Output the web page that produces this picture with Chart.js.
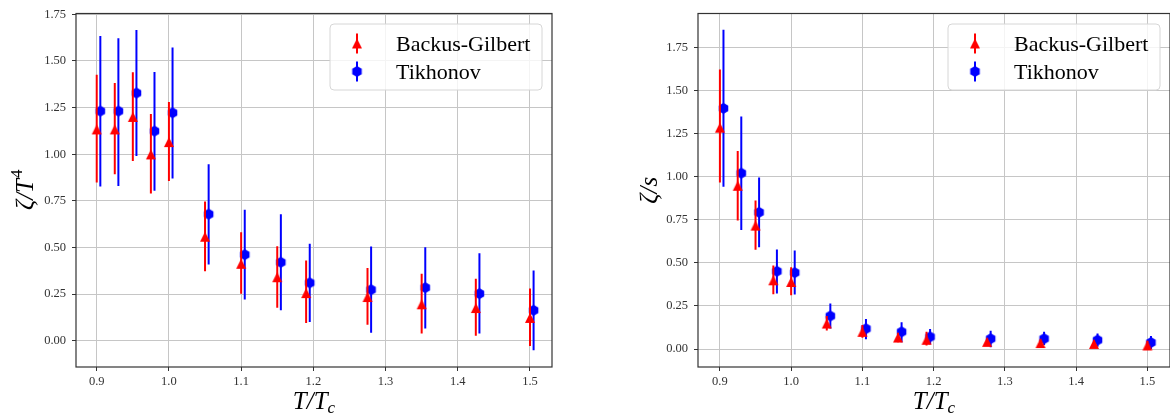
<!DOCTYPE html>
<html>
<head>
<meta charset="utf-8">
<script src="https://cdn.jsdelivr.net/npm/chart.js@4"></script>
<style>
  html, body { margin: 0; padding: 0; background: #fff; overflow: hidden; }
  .panel { position: absolute; top: 0; height: 416px; }
</style>
</head>
<body>
<div class="panel" style="left:0;width:585px"><canvas id="leftChart" width="585" height="416"></canvas></div>
<div class="panel" style="left:585px;width:590px"><canvas id="rightChart" width="590" height="416"></canvas></div>
<script>
// Temperatures (T/Tc); Tikhonov points are shifted a little to the right
const tempBG = [0.9, 0.925, 0.95, 0.975, 1.0, 1.05, 1.1, 1.15, 1.19, 1.275, 1.35, 1.425, 1.5];
const tempTK = [0.905, 0.93, 0.955, 0.98, 1.005, 1.055, 1.105, 1.155, 1.195, 1.28, 1.355, 1.43, 1.505];

// zeta / T^4
const bgT4 = [1.133, 1.133, 1.200, 0.999, 1.065, 0.558, 0.413, 0.341, 0.256, 0.235, 0.196, 0.176, 0.123];
const bgT4Lo = [0.848, 0.893, 0.964, 0.790, 0.857, 0.373, 0.253, 0.178, 0.096, 0.087, 0.039, 0.027, -0.028];
const bgT4Hi = [1.426, 1.382, 1.439, 1.216, 1.280, 0.747, 0.582, 0.507, 0.431, 0.390, 0.360, 0.333, 0.280];
const tkT4 = [1.231, 1.231, 1.328, 1.124, 1.222, 0.679, 0.462, 0.421, 0.311, 0.274, 0.285, 0.253, 0.164];
const tkT4Lo = [0.827, 0.830, 0.991, 0.804, 0.870, 0.409, 0.221, 0.164, 0.101, 0.043, 0.066, 0.039, -0.050];
const tkT4Hi = [1.634, 1.622, 1.666, 1.440, 1.572, 0.946, 0.702, 0.679, 0.520, 0.505, 0.502, 0.470, 0.377];

// zeta / s
const bgS = [1.284, 0.947, 0.716, 0.399, 0.389, 0.148, 0.100, 0.067, 0.054, 0.042, 0.035, 0.030, 0.021];
const bgSLo = [0.966, 0.745, 0.576, 0.318, 0.312, 0.108, 0.065, 0.040, 0.020, 0.022, 0.015, 0.012, -0.005];
const bgSHi = [1.621, 1.149, 0.861, 0.485, 0.475, 0.192, 0.139, 0.095, 0.100, 0.062, 0.055, 0.050, 0.048];
const tkS = [1.396, 1.020, 0.793, 0.451, 0.443, 0.192, 0.118, 0.100, 0.071, 0.060, 0.060, 0.052, 0.038];
const tkSLo = [0.941, 0.691, 0.591, 0.322, 0.316, 0.119, 0.057, 0.039, 0.028, 0.010, 0.023, 0.014, 0.000];
const tkSHi = [1.852, 1.348, 0.995, 0.578, 0.572, 0.264, 0.175, 0.156, 0.116, 0.106, 0.100, 0.090, 0.076];

const xTicks = [0.9, 1.0, 1.1, 1.2, 1.3, 1.4, 1.5];
const yTicksLeft = [0, 0.25, 0.5, 0.75, 1.0, 1.25, 1.5, 1.75];
const yTicksRight = [0, 0.25, 0.5, 0.75, 1.0, 1.25, 1.5, 1.75];

const labelBG = "Backus-Gilbert";
const labelTK = "Tikhonov";

const SERIF = "'Liberation Serif', 'DejaVu Serif', serif";

// matplotlib-like marker images
function triangleMarker(color, size) {
  const c = document.createElement("canvas");
  c.width = c.height = size + 2;
  const g = c.getContext("2d");
  g.fillStyle = color;
  g.beginPath();
  g.moveTo((size + 2) / 2, 1);
  g.lineTo(size + 1, size + 1);
  g.lineTo(1, size + 1);
  g.closePath();
  g.fill();
  return c;
}
function hexagonMarker(color, size) {
  const c = document.createElement("canvas");
  c.width = c.height = size + 2;
  const g = c.getContext("2d");
  const r = size / 2, cx = (size + 2) / 2;
  g.fillStyle = color;
  g.beginPath();
  for (let k = 0; k < 6; k++) {
    const a = -Math.PI / 2 + k * Math.PI / 3;
    g.lineTo(cx + r * Math.cos(a), cx + r * Math.sin(a));
  }
  g.closePath();
  g.fill();
  return c;
}
const triRed = triangleMarker("#ff0000", 10);
const hexBlue = hexagonMarker("#0000ff", 11);

function points(xs, ys, lo, hi) {
  return xs.map((x, i) => ({ x: x, y: ys[i], yMin: lo[i], yMax: hi[i] }));
}

// error bars drawn through the scales, just before each dataset's markers
const errorBars = {
  id: "errorBars",
  beforeDatasetDraw(chart, args) {
    const ds = chart.data.datasets[args.index];
    const { ctx, chartArea, scales } = chart;
    ctx.save();
    ctx.beginPath();
    ctx.rect(chartArea.left, chartArea.top, chartArea.width, chartArea.height);
    ctx.clip();
    ctx.strokeStyle = ds.errColor;
    ctx.lineWidth = 2;
    ctx.beginPath();
    ds.data.forEach((p) => {
      const x = scales.x.getPixelForValue(p.x);
      ctx.moveTo(x, scales.y.getPixelForValue(p.yMin));
      ctx.lineTo(x, scales.y.getPixelForValue(p.yMax));
    });
    ctx.stroke();
    ctx.restore();
  },
};

// spines, axis titles with sub/superscripts, legend box
const frame = {
  id: "frame",
  afterDraw(chart, args, opts) {
    const { ctx, chartArea: a } = chart;
    ctx.save();
    ctx.strokeStyle = "#333";
    ctx.lineWidth = 1.2;
    ctx.strokeRect(a.left, a.top, a.width, a.height);

    // x title: T/T_c
    ctx.fillStyle = "#000";
    ctx.textBaseline = "alphabetic";
    ctx.font = "italic 25px " + SERIF;
    const main = "T/T";
    const wMain = ctx.measureText(main).width;
    ctx.font = "italic 17px " + SERIF;
    const wSub = ctx.measureText("c").width;
    let x0 = (a.left + a.right) / 2 - (wMain + wSub) / 2;
    ctx.font = "italic 25px " + SERIF;
    ctx.textAlign = "left";
    ctx.fillText(main, x0, 409);
    ctx.font = "italic 17px " + SERIF;
    ctx.fillText("c", x0 + wMain, 413);

    // y title
    ctx.save();
    ctx.translate(opts.yTitleX, (a.top + a.bottom) / 2);
    ctx.rotate(-Math.PI / 2);
    ctx.font = "italic 25px " + SERIF;
    const wy = ctx.measureText(opts.yTitle).width;
    ctx.font = "17px " + SERIF;
    const wsup = opts.ySup ? ctx.measureText(opts.ySup).width : 0;
    const y0 = -(wy + wsup) / 2;
    ctx.font = "italic 25px " + SERIF;
    ctx.fillText(opts.yTitle, y0, 8);
    if (opts.ySup) {
      ctx.font = "17px " + SERIF;
      ctx.fillText(opts.ySup, y0 + wy + 1, -3);
    }
    ctx.restore();

    // legend
    const bw = 212, bh = 66;
    const bx = a.right - 10 - bw, by = a.top + 10.5;
    ctx.fillStyle = "rgba(255,255,255,0.8)";
    ctx.strokeStyle = "#d6d6d6";
    ctx.lineWidth = 1;
    ctx.beginPath();
    ctx.roundRect(bx, by, bw, bh, 4);
    ctx.fill();
    ctx.stroke();
    const rows = chart.data.datasets;
    rows.forEach((ds, i) => {
      const cy = by + 19.5 + i * 28;
      const mx = bx + 27;
      ctx.strokeStyle = ds.errColor;
      ctx.lineWidth = 2;
      ctx.beginPath();
      ctx.moveTo(mx, cy - 10);
      ctx.lineTo(mx, cy + 10);
      ctx.stroke();
      ctx.drawImage(ds.pointStyle, mx - ds.pointStyle.width / 2, cy - ds.pointStyle.height / 2);
      ctx.fillStyle = "#000";
      ctx.font = "22px " + SERIF;
      ctx.textAlign = "left";
      ctx.fillText(ds.label, bx + 66, cy + 7);
    });
    ctx.restore();
  },
};

function makeChart(id, bg, tk, yRange, yTicks, yWidth, padRight, xRange, yTitle, ySup, yTitleX) {
  return new Chart(document.getElementById(id), {
    type: "scatter",
    data: {
      datasets: [
        { label: labelBG, data: bg, pointStyle: triRed, errColor: "#ff0000", showLine: false },
        { label: labelTK, data: tk, pointStyle: hexBlue, errColor: "#0000ff", showLine: false },
      ],
    },
    options: {
      responsive: false,
      animation: false,
      devicePixelRatio: 1,
      layout: { padding: { top: 12, right: padRight, left: 0, bottom: 0 } },
      plugins: {
        legend: { display: false },
        tooltip: { enabled: false },
        frame: { yTitle: yTitle, ySup: ySup, yTitleX: yTitleX },
      },
      scales: {
        x: {
          type: "linear",
          min: xRange[0],
          max: xRange[1],
          afterBuildTicks: (s) => { s.ticks = xTicks.map((v) => ({ value: v })); },
          afterFit: (s) => { s.height = 49; },
          grid: { color: "#c6c6c6", lineWidth: 1, tickLength: 4, tickColor: "#333" },
          border: { display: false },
          ticks: {
            color: "#333",
            padding: 3,
            maxRotation: 0,
            font: { family: SERIF, size: 12.5 },
            callback: (v) => v.toFixed(1),
          },
        },
        y: {
          type: "linear",
          min: yRange[0],
          max: yRange[1],
          afterBuildTicks: (s) => { s.ticks = yTicks.map((v) => ({ value: v })); },
          afterFit: (s) => { s.width = yWidth; },
          grid: { color: "#c6c6c6", lineWidth: 1, tickLength: 4, tickColor: "#333" },
          border: { display: false },
          ticks: {
            color: "#333",
            padding: 6,
            font: { family: SERIF, size: 12.5 },
            callback: (v) => v.toFixed(2),
          },
        },
      },
    },
    plugins: [errorBars, frame],
  });
}

makeChart(
  "leftChart",
  points(tempBG, bgT4, bgT4Lo, bgT4Hi),
  points(tempTK, tkT4, tkT4Lo, tkT4Hi),
  [-0.140, 1.754], yTicksLeft, 76, 33, [0.8713, 1.5305],
  "ζ/T", "4", 25
);

makeChart(
  "rightChart",
  points(tempBG, bgS, bgSLo, bgSHi),
  points(tempTK, tkS, tkSLo, tkSHi),
  [-0.104, 1.946], yTicksRight, 113, 3, [0.86925, 1.53173],
  "ζ/s", null, 64
);
</script>
</body>
</html>
